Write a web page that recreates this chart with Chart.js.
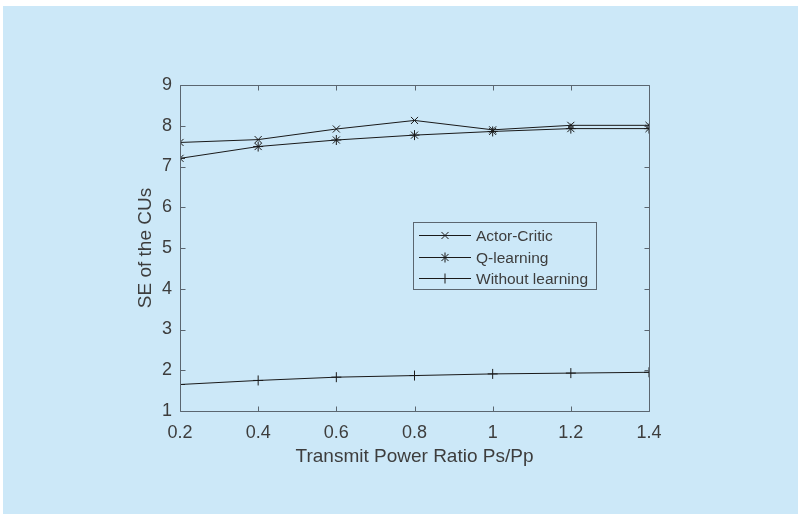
<!DOCTYPE html>
<html>
<head>
<meta charset="utf-8">
<script src="https://cdn.jsdelivr.net/npm/chart.js@4"></script>
<style>
  html, body { margin: 0; padding: 0; background: #ffffff; }
  #wrap { width: 798px; height: 514px; }
</style>
</head>
<body>
<div id="wrap"><canvas id="seChart" width="798" height="514"></canvas></div>
<script>
// Отношение мощностей Ps/Pp
const powerRatio = [0.2, 0.4, 0.6, 0.8, 1.0, 1.2, 1.4];
const xTicks = [0.2, 0.4, 0.6, 0.8, 1, 1.2, 1.4];
const yTicks = [1, 2, 3, 4, 5, 6, 7, 8, 9];

// SE для каждого метода
const actorCritic = [7.59, 7.66, 7.92, 8.13, 7.90, 8.01, 8.01];
const qLearning = [7.20, 7.49, 7.65, 7.77, 7.86, 7.93, 7.93];
const withoutLearning = [1.65, 1.75, 1.83, 1.87, 1.91, 1.93, 1.95];

const seriesNames = ["Actor-Critic", "Q-learning", "Without learning"];

const BG = "#cce8f8";
const AXIS = "#5b6670";
const TEXT = "#3d3d3d";
const INK = "#1a1a1a";
const FONT = "'Liberation Sans', Arial, sans-serif";

// фон: белая рамка сверху/слева, дальше голубая заливка
const bgPlugin = {
  id: "bg",
  beforeDraw(chart) {
    const c = chart.ctx;
    c.save();
    c.fillStyle = "#ffffff";
    c.fillRect(0, 0, chart.width, chart.height);
    c.fillStyle = BG;
    c.fillRect(3, 6, chart.width - 3, chart.height - 6);
    c.restore();
  }
};

// рамка осей и засечки внутрь (как в MATLAB)
const boxPlugin = {
  id: "box",
  afterDatasetsDraw(chart) {
    const c = chart.ctx;
    const a = chart.chartArea;
    const xs = chart.scales.x, ys = chart.scales.y;
    const L = Math.round(a.left) + 0.5, R = Math.round(a.right) + 0.5;
    const T = Math.round(a.top) + 0.5, B = Math.round(a.bottom) + 0.5;
    c.save();
    c.strokeStyle = AXIS;
    c.lineWidth = 1;
    c.beginPath();
    c.rect(L, T, R - L, B - T);
    xTicks.forEach(v => {
      const px = Math.round(xs.getPixelForValue(v)) + 0.5;
      c.moveTo(px, B); c.lineTo(px, B - 5);
      c.moveTo(px, T); c.lineTo(px, T + 5);
    });
    yTicks.forEach(v => {
      const py = Math.round(ys.getPixelForValue(v)) + 0.5;
      c.moveTo(L, py); c.lineTo(L + 5, py);
      c.moveTo(R, py); c.lineTo(R - 5, py);
    });
    c.stroke();

    // подписи осей
    c.fillStyle = TEXT;
    c.font = "19px " + FONT;
    c.textAlign = "center";
    c.textBaseline = "middle";
    c.fillText("Transmit Power Ratio Ps/Pp", (a.left + a.right) / 2, 457);
    c.translate(146, (a.top + a.bottom) / 2);
    c.rotate(-Math.PI / 2);
    c.fillText("SE of the CUs", 0, 0);
    c.restore();
  }
};

// легенда в рамке: линия с маркером + подпись
const legendPlugin = {
  id: "boxLegend",
  afterDatasetsDraw(chart) {
    const c = chart.ctx;
    const x0 = 413, y0 = 222, w = 183, h = 67;
    c.save();
    c.strokeStyle = AXIS;
    c.lineWidth = 1;
    c.strokeRect(x0 + 0.5, y0 + 0.5, w, h);
    c.font = "15.5px " + FONT;
    c.textBaseline = "middle";
    c.textAlign = "left";
    chart.data.datasets.forEach((ds, i) => {
      const y = Math.round(y0 + 13 + i * 21.5) + 0.5;
      c.strokeStyle = INK;
      c.beginPath();
      c.moveTo(x0 + 6, y);
      c.lineTo(x0 + 58, y);
      c.stroke();
      Chart.helpers.drawPoint(c, {
        pointStyle: ds.pointStyle, radius: ds.pointRadius, rotation: 0, borderWidth: 1
      }, x0 + 32, y);
      c.fillStyle = TEXT;
      c.fillText(ds.label, x0 + 63, y + 1);
    });
    c.restore();
  }
};

function series(label, data, style) {
  return {
    label: label,
    data: data,
    borderColor: INK,
    backgroundColor: INK,
    borderWidth: 1,
    pointStyle: style,
    pointRadius: 5,
    pointBorderWidth: 1,
    pointBorderColor: INK,
    pointBackgroundColor: INK,
    tension: 0
  };
}

const ctx = document.getElementById("seChart").getContext("2d");
new Chart(ctx, {
  type: "line",
  data: {
    labels: powerRatio,
    datasets: [
      series(seriesNames[0], actorCritic, "crossRot"),
      series(seriesNames[1], qLearning, "star"),
      series(seriesNames[2], withoutLearning, "cross")
    ]
  },
  options: {
    responsive: false,
    animation: false,
    devicePixelRatio: 1,
    layout: { padding: { left: 0, top: 85, right: 149, bottom: 0 } },
    plugins: { legend: { display: false }, tooltip: { enabled: false } },
    elements: { point: { hitRadius: 0 } },
    scales: {
      x: {
        type: "linear",
        min: 0.2, max: 1.4,
        afterBuildTicks(scale) { scale.ticks = xTicks.map(v => ({ value: v })); },
        afterFit(scale) { scale.height = 103; },
        grid: { display: false, drawTicks: false },
        border: { display: false },
        ticks: {
          color: TEXT, font: { family: FONT, size: 18 }, padding: 11,
          maxRotation: 0,
          callback: v => String(v)
        }
      },
      y: {
        type: "linear",
        min: 1, max: 9,
        afterBuildTicks(scale) { scale.ticks = yTicks.map(v => ({ value: v })); },
        afterFit(scale) { scale.width = 180; },
        grid: { display: false, drawTicks: false },
        border: { display: false },
        ticks: { color: TEXT, font: { family: FONT, size: 18 }, padding: 8 }
      }
    }
  },
  plugins: [bgPlugin, boxPlugin, legendPlugin]
});
</script>
</body>
</html>
